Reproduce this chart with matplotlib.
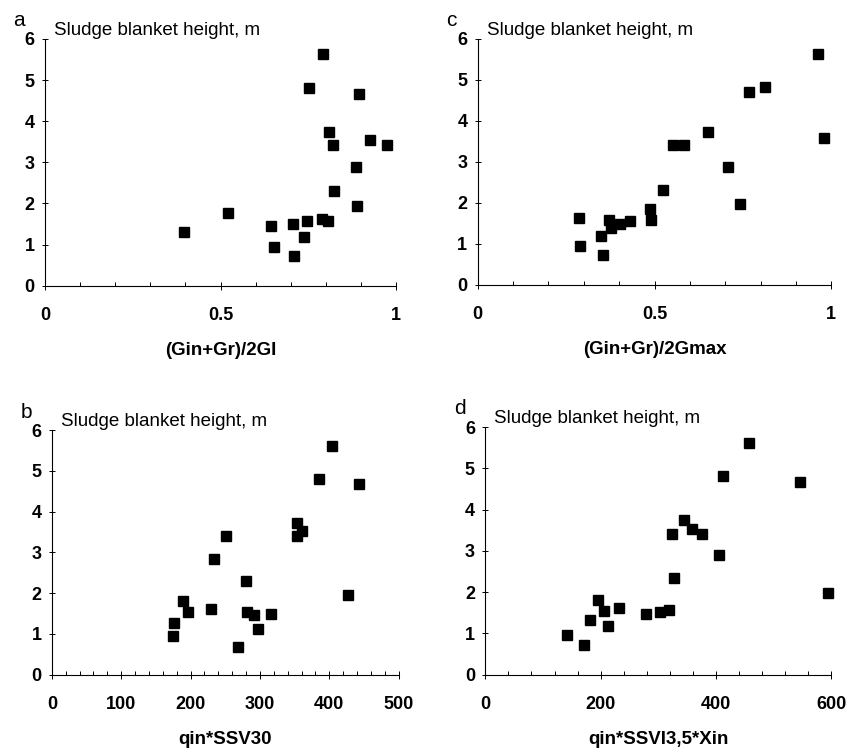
import numpy as np
import matplotlib
matplotlib.use('Agg')
import matplotlib.pyplot as plt
from matplotlib.ticker import MultipleLocator

plt.rcParams['font.family'] = ['Liberation Sans', 'DejaVu Sans']

# panel a: (Gin+Gr)/2GI
a_x = [0.397, 0.522, 0.645, 0.653, 0.707, 0.709, 0.737, 0.747, 0.751, 0.788,
       0.792, 0.805, 0.808, 0.819, 0.822, 0.885, 0.890, 0.895, 0.925, 0.975]
a_y = [1.31, 1.78, 1.44, 0.94, 1.51, 0.73, 1.18, 1.58, 4.81, 1.62,
       5.64, 1.58, 3.74, 3.43, 2.31, 2.88, 1.95, 4.67, 3.55, 3.43]

# panel c: (Gin+Gr)/2Gmax
c_x = [0.287, 0.289, 0.350, 0.354, 0.370, 0.377, 0.403, 0.432, 0.487, 0.491,
       0.524, 0.552, 0.583, 0.652, 0.708, 0.742, 0.767, 0.813, 0.961, 0.979]
c_y = [1.63, 0.96, 1.20, 0.72, 1.59, 1.38, 1.49, 1.55, 1.85, 1.58,
       2.31, 3.42, 3.42, 3.74, 2.88, 1.98, 4.70, 4.83, 5.64, 3.59]

# panel b: qin*SSV30
b_x = [174, 176, 189, 196, 230, 234, 251, 268, 280, 281,
       291, 297, 316, 354, 354, 361, 385, 404, 427, 443]
b_y = [0.95, 1.28, 1.80, 1.53, 1.62, 2.85, 3.41, 0.69, 2.29, 1.53,
       1.46, 1.13, 1.49, 3.41, 3.72, 3.53, 4.79, 5.60, 1.96, 4.68]

# panel d: qin*SSVI3,5*Xin
d_x = [142, 171, 182, 195, 206, 212, 231, 279, 303, 319,
       323, 328, 344, 359, 375, 406, 412, 458, 546, 595]
d_y = [0.95, 0.73, 1.32, 1.80, 1.54, 1.17, 1.62, 1.48, 1.51, 1.56,
       3.42, 2.34, 3.74, 3.52, 3.42, 2.91, 4.81, 5.62, 4.67, 1.99]

ylabel = 'Sludge blanket height, m'

panels = [
    # letter, x, y, xlabel, xmax, major, minor, rect
    ('a', a_x, a_y, '(Gin+Gr)/2GI', 1, 0.5, 0.1, [0.053, 0.618, 0.413, 0.330]),
    ('c', c_x, c_y, '(Gin+Gr)/2Gmax', 1, 0.5, 0.1, [0.562, 0.619, 0.416, 0.329]),
    ('b', b_x, b_y, 'qin*SSV30', 500, 100, 20, [0.061, 0.098, 0.408, 0.327]),
    ('d', d_x, d_y, 'qin*SSVI3,5*Xin', 600, 200, 40, [0.571, 0.098, 0.407, 0.331]),
]

fig = plt.figure(figsize=(8.5, 7.48), dpi=100)

for letter, xs, ys, xlab, xmax, major, minor, rect in panels:
    ax = fig.add_axes(rect)
    ax.plot(xs, ys, 's', color='black', markersize=7, clip_on=False)
    ax.set_xlim(0, xmax)
    ax.set_ylim(0, 6)
    ax.xaxis.set_major_locator(MultipleLocator(major))
    ax.xaxis.set_minor_locator(MultipleLocator(minor))
    ax.yaxis.set_major_locator(MultipleLocator(1))
    if xmax == 1:
        ax.set_xticklabels(['0' if t == 0 else ('1' if t == 1 else '0.5')
                            for t in ax.get_xticks()])
    for side in ['top', 'right']:
        ax.spines[side].set_visible(False)
    for side in ['left', 'bottom']:
        ax.spines[side].set_linewidth(0.8)
    ax.tick_params(axis='x', which='minor', direction='in', length=3, width=0.7)
    ax.tick_params(axis='x', which='major', direction='inout', length=6, width=0.7,
                   pad=12, labelsize=13)
    ax.tick_params(axis='y', which='major', direction='inout', length=5, width=0.7,
                   pad=5, labelsize=13)
    for lab in ax.get_xticklabels() + ax.get_yticklabels():
        lab.set_fontweight('bold')
    ax.set_xlabel(xlab, fontsize=13.5, fontweight='bold', labelpad=13)
    ax.text(0.025, 1.0, ylabel, transform=ax.transAxes, fontsize=13.5,
            ha='left', va='bottom')
    ax.text(-0.09, 1.035, letter, transform=ax.transAxes, fontsize=15,
            ha='left', va='bottom')

fig.savefig('out.png', dpi=100)
